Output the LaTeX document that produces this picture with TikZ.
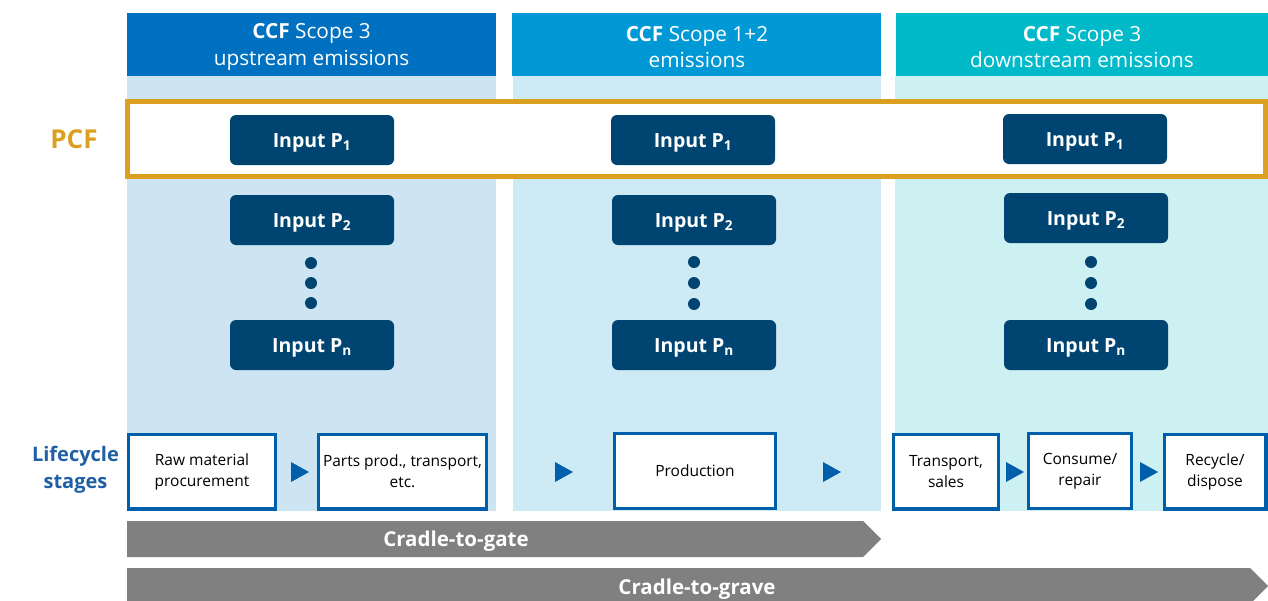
\documentclass[tikz,border=0pt]{standalone}
\usepackage{fontspec}
\setmainfont{Open Sans}
\definecolor{hdrA}{HTML}{0070C0}
\definecolor{hdrB}{HTML}{0099D6}
\definecolor{hdrC}{HTML}{00B9C9}
\definecolor{bodyA}{HTML}{CDE4F2}
\definecolor{bodyB}{HTML}{CEEAF5}
\definecolor{bodyC}{HTML}{CDF0F3}
\definecolor{pcfgold}{HTML}{DCA020}
\definecolor{navy}{HTML}{004571}
\definecolor{stageblue}{HTML}{005FAA}
\definecolor{labelblue}{HTML}{1E5FA5}
\definecolor{bargrey}{HTML}{808080}
\begin{document}
\begin{tikzpicture}[x=1pt,y=-1pt,
  headtext/.style={inner sep=0, text=white, align=center,
    font=\fontsize{20.8}{26.5}\selectfont},
  inbox/.style={fill=navy, rounded corners=6, minimum width=164, minimum height=50,
    inner sep=0, text height=14, text depth=0, text=white,
    font=\fontsize{19.5}{22}\selectfont\bfseries},
  dot/.style={circle, fill=navy, minimum size=12, inner sep=0},
  stagebox/.style={draw=stageblue, line width=3.3, fill=white, inner sep=0,
    minimum height=74.7, align=center, font=\fontsize{15.5}{21}\selectfont},
  tri/.style={fill=stageblue},
  bar/.style={fill=bargrey},
  bartext/.style={text=white, inner sep=0, text height=14, text depth=0,
    font=\fontsize{20.5}{22}\selectfont\bfseries},
  rowlabel/.style={align=center, font=\fontsize{20}{27}\selectfont\bfseries}]
\useasboundingbox (0,0) rectangle (1268,600);

% column backgrounds
\fill[bodyA] (127,76) rectangle (496,511);
\fill[bodyB] (513,76) rectangle (881,511);
\fill[bodyC] (895,76) rectangle (1268,511);

% column headers
\fill[hdrA] (127,13) rectangle (496,76);
\fill[hdrB] (512,13) rectangle (881,76);
\fill[hdrC] (896,13) rectangle (1268,76);
\node[headtext] (hA) at (311.5,47) {\textbf{CCF} Scope 3\\upstream emissions};
\node[headtext] (hB) at (697,47) {\textbf{CCF} Scope 1+2\\emissions};
\node[headtext] (hC) at (1082,47) {\textbf{CCF} Scope 3\\downstream emissions};

% PCF frame
\draw[pcfgold, line width=5, fill=white] (127,101) rectangle (1265,176);
\node[text=pcfgold, inner sep=0, font=\fontsize{26}{28}\selectfont\bfseries] (pcf) at (74,139) {PCF};

% inputs per column
\node[inbox] (a1) at (312,140) {Input P\textsubscript{1}};
\node[inbox] (a2) at (312,220) {Input P\textsubscript{2}};
\node[inbox] (an) at (312,345) {Input P\textsubscript{n}};
\node[dot] (ad1) at (311,263) {};
\node[dot] (ad2) at (311,283) {};
\node[dot] (ad3) at (311,303) {};

\node[inbox] (b1) at (693,140) {Input P\textsubscript{1}};
\node[inbox] (b2) at (694,220) {Input P\textsubscript{2}};
\node[inbox] (bn) at (694,345) {Input P\textsubscript{n}};
\node[dot] (bd1) at (694,262) {};
\node[dot] (bd2) at (694,283) {};
\node[dot] (bd3) at (694,304) {};

\node[inbox] (c1) at (1085,139) {Input P\textsubscript{1}};
\node[inbox] (c2) at (1086,218) {Input P\textsubscript{2}};
\node[inbox] (cn) at (1086,345) {Input P\textsubscript{n}};
\node[dot] (cd1) at (1091,262) {};
\node[dot] (cd2) at (1091,283) {};
\node[dot] (cd3) at (1091,304) {};

% lifecycle stages
\node[rowlabel, text=labelblue] (life) at (75.5,470) {Lifecycle\\stages};
\node[stagebox, minimum width=146.7] (s1) at (202,471.5) {Raw material\\procurement};
\node[stagebox, minimum width=167.7] (s2) at (402.5,471.5) {Parts prod., transport,\\etc.};
\node[stagebox, minimum width=160.7] (s3) at (695,471) {Production};
\node[stagebox, minimum width=104.7] (s4) at (946,471.5) {Transport,\\sales};
\node[stagebox, minimum width=102.7] (s5) at (1080,471) {Consume/\\repair};
\node[stagebox, minimum width=101.7] (s6) at (1215,471.5) {Recycle/\\dispose};

\fill[tri] (291,462) -- (309,472) -- (291,482) -- cycle;
\fill[tri] (555,462) -- (573,472) -- (555,482) -- cycle;
\fill[tri] (823,462) -- (841,472) -- (823,482) -- cycle;
\fill[tri] (1006,462) -- (1024,472) -- (1006,482) -- cycle;
\fill[tri] (1140,462) -- (1158,472) -- (1140,482) -- cycle;

% system boundaries
\fill[bar] (127,521) -- (863,521) -- (881,539) -- (863,557) -- (127,557) -- cycle;
\node[bartext] (gate) at (456,539) {Cradle-to-gate};
\fill[bar] (127,568) -- (1250,568) -- (1268,586) -- (1250,604) -- (127,604) -- cycle;
\node[bartext] (grave) at (697,587) {Cradle-to-grave};
\end{tikzpicture}
\end{document}
